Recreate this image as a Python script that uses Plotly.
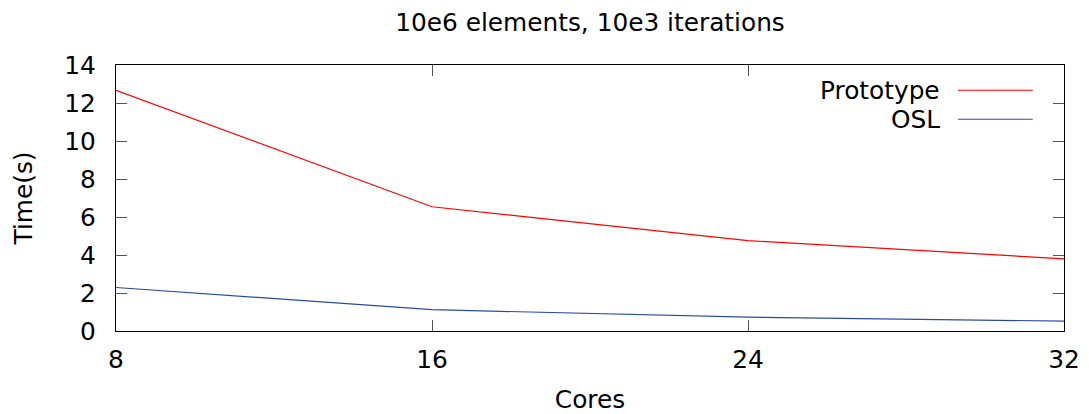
import plotly.graph_objects as go

# Benchmark: 10e6 elements, 10e3 iterations
cores = [8, 16, 24, 32]
prototype_time = [12.67, 6.54, 4.76, 3.80]
osl_time = [2.29, 1.12, 0.73, 0.52]

series_names = ["Prototype", "OSL"]
series_colors = ["#ff0000", "#2b4aa6"]

FONT = "DejaVu Sans"
FS = 24.8

fig = go.Figure()
for name, ys, color in zip(series_names, [prototype_time, osl_time], series_colors):
    fig.add_trace(go.Scatter(
        x=cores, y=ys, mode="lines", name=name,
        line=dict(color=color, width=1.2),
        showlegend=False,
    ))

# gnuplot-style key: right-aligned label followed by a line sample
key_y = [0.905, 0.796]
for name, color, ky in zip(series_names, series_colors, key_y):
    fig.add_annotation(
        x=0.871, y=ky, xref="paper", yref="paper", text=name,
        showarrow=False, xanchor="right", yanchor="middle",
        font=dict(family=FONT, size=FS, color="#000000"),
    )
    fig.add_shape(
        type="line", xref="paper", yref="paper",
        x0=0.888, x1=0.967, y0=ky, y1=ky,
        line=dict(color=color, width=1.2),
    )

axis_common = dict(
    showgrid=False, zeroline=False, showline=True, mirror="ticks",
    linecolor="#000000", linewidth=1.3, automargin=False,
    ticks="inside", ticklen=11, tickwidth=1.3, tickcolor="#555555",
    tickfont=dict(family=FONT, size=FS, color="#000000"),
)

fig.update_layout(
    width=1089, height=414,
    margin=dict(l=116, r=25, t=65, b=83),
    paper_bgcolor="white", plot_bgcolor="white",
    title=dict(
        text="10e6 elements, 10e3 iterations",
        x=0.5418, xanchor="center", y=0.947, yanchor="middle",
        font=dict(family=FONT, size=FS, color="#000000"),
    ),
    xaxis=dict(
        axis_common, range=[8, 32], tickvals=cores, ticklabelstandoff=6,
        title=dict(text="Cores", standoff=24,
                   font=dict(family=FONT, size=FS, color="#000000")),
    ),
    yaxis=dict(
        axis_common, range=[0, 14], tickvals=list(range(0, 15, 2)),
        ticklabelstandoff=14,
        title=dict(text="Time(s)", standoff=24,
                   font=dict(family=FONT, size=FS, color="#000000")),
    ),
)

fig.write_html("out.html")
